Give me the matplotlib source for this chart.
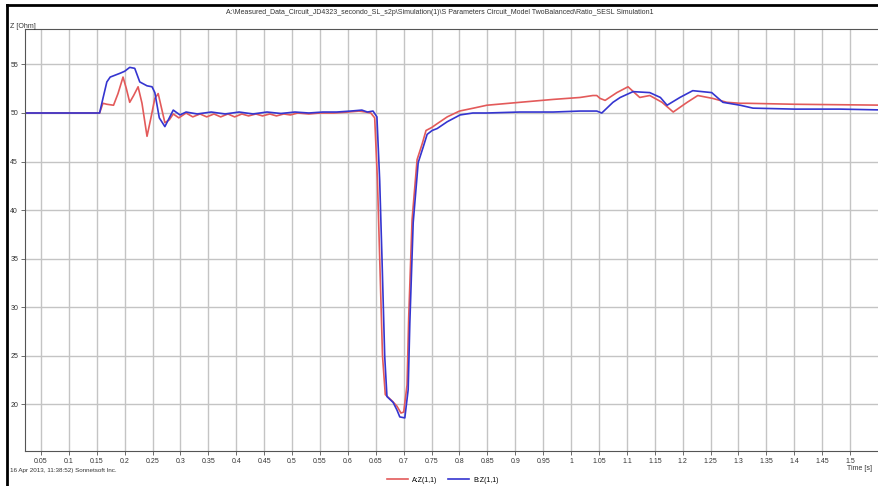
import numpy as np
from matplotlib import pyplot as plt
from matplotlib.lines import Line2D

plt.rcParams['font.family'] = ['Liberation Sans', 'DejaVu Sans']

title = ('A:\\Measured_Data_Circuit_JD4323_secondo_SL_s2p\\Simulation(1)\\S Parameters '
         'Circuit_Model TwoBalanced\\Ratio_SESL Simulation1')
footer = '16 Apr 2013, 11:38:52) Sonnetsoft Inc.'
y_label = 'Z [Ohm]'
x_label = 'Time [s]'
series_names = ['A:Z(1,1)', 'B:Z(1,1)']

# curve A (red)
t_a = [0.021, 0.10, 0.155, 0.161, 0.168, 0.180, 0.188, 0.197, 0.203, 0.209, 0.216,
       0.224, 0.231, 0.240, 0.247, 0.254, 0.260, 0.266, 0.272, 0.280, 0.287, 0.297,
       0.31, 0.322, 0.335, 0.347, 0.36, 0.372, 0.385, 0.397, 0.41, 0.422, 0.435,
       0.447, 0.46, 0.472, 0.485, 0.497, 0.51, 0.53, 0.55, 0.575, 0.60, 0.62, 0.632,
       0.641, 0.648, 0.653, 0.657, 0.662, 0.667, 0.680, 0.688, 0.695, 0.700, 0.706,
       0.709, 0.715, 0.724, 0.733, 0.740, 0.750, 0.760, 0.778, 0.80, 0.825, 0.849,
       0.908, 0.968, 1.016, 1.039, 1.046, 1.052, 1.061, 1.082, 1.102, 1.123, 1.141,
       1.163, 1.183, 1.208, 1.227, 1.254, 1.279, 1.303, 1.315, 1.40, 1.57]
z_a = [50.0, 50.0, 50.0, 51.0, 50.9, 50.8, 52.0, 53.7, 52.5, 51.1, 51.8,
       52.7, 51.0, 47.6, 49.5, 51.5, 52.0, 50.5, 49.0, 49.3, 49.9, 49.5,
       50.0, 49.6, 49.9, 49.6, 49.9, 49.6, 49.9, 49.6, 49.9, 49.7, 49.9,
       49.7, 49.9, 49.7, 49.9, 49.8, 50.0, 49.9, 50.0, 50.0, 50.1, 50.2, 50.1,
       50.0, 49.5, 43.0, 35.0, 25.0, 21.0, 20.3, 19.8, 19.1, 19.2, 22.0,
       29.0, 39.0, 45.2, 46.8, 48.2, 48.5, 48.9, 49.6, 50.2, 50.5, 50.8,
       51.1, 51.4, 51.6, 51.8, 51.8, 51.5, 51.3, 52.1, 52.7, 51.6, 51.8,
       51.1, 50.1, 51.1, 51.8, 51.5, 51.1, 51.0, 51.0, 50.9, 50.8]

# curve B (blue)
t_b = [0.021, 0.10, 0.155, 0.161, 0.168, 0.174, 0.192, 0.200, 0.209, 0.218, 0.227,
       0.240, 0.249, 0.254, 0.262, 0.272, 0.280, 0.287, 0.299, 0.31, 0.33, 0.355,
       0.38, 0.405, 0.43, 0.455, 0.48, 0.505, 0.53, 0.555, 0.58, 0.605, 0.625,
       0.635, 0.645, 0.652, 0.657, 0.661, 0.666, 0.670, 0.681, 0.688, 0.693, 0.702,
       0.708, 0.711, 0.717, 0.726, 0.735, 0.742, 0.751, 0.760, 0.778, 0.801, 0.824,
       0.849, 0.908, 0.968, 1.016, 1.046, 1.055, 1.075, 1.088, 1.111, 1.141, 1.160,
       1.172, 1.195, 1.218, 1.252, 1.272, 1.303, 1.326, 1.40, 1.482, 1.57]
z_b = [50.0, 50.0, 50.0, 51.5, 53.2, 53.7, 54.1, 54.3, 54.7, 54.6, 53.2,
       52.8, 52.7, 52.1, 49.5, 48.6, 49.5, 50.3, 49.8, 50.1, 49.9, 50.1,
       49.9, 50.1, 49.9, 50.1, 49.95, 50.1, 50.0, 50.1, 50.1, 50.2, 50.3,
       50.1, 50.2, 49.6, 43.0, 35.2, 24.9, 20.8, 20.2, 19.4, 18.7, 18.6,
       21.5, 28.4, 38.7, 44.9, 46.5, 47.8, 48.2, 48.4, 49.1, 49.8, 50.0,
       50.0, 50.1, 50.1, 50.2, 50.2, 50.0, 51.1, 51.6, 52.2, 52.1, 51.6,
       50.8, 51.6, 52.3, 52.1, 51.1, 50.8, 50.5, 50.4, 50.4, 50.3]

x_ticks = np.round(np.arange(0.05, 1.55, 0.05), 2)
y_ticks = [20, 25, 30, 35, 40, 45, 50, 55]

W, H = 879, 486
fig = plt.figure(figsize=(W / 100, H / 100), dpi=100)

# axes box in pixels: left 25, top 29, bottom 451, right past the image edge
ax = fig.add_axes([25 / W, (H - 451) / H, (888 - 25) / W, (451 - 29) / H])
ax.set_xlim(0.05 + (25 - 41) / 558, 0.05 + (888 - 41) / 558)
ax.set_ylim(50 - (451 - 113) / 9.71, 50 + (113 - 29) / 9.71)

ax.grid(True, color='#c4c4c4', linewidth=1.0)
ax.set_axisbelow(True)
ax.plot(t_a, z_a, color='#e35a5a', linewidth=1.2, label=series_names[0])
ax.plot(t_b, z_b, color='#3535d0', linewidth=1.2, label=series_names[1])

ax.set_xticks(x_ticks)
ax.set_xticklabels(['%g' % v for v in x_ticks])
ax.set_yticks(y_ticks)
ax.tick_params(labelsize=5, length=3, width=0.6, color='#555555', pad=2,
               labelcolor='#333333', direction='out')
for s in ax.spines.values():
    s.set_color('#555555')
    s.set_linewidth(0.8)
ax.spines['right'].set_visible(False)

fig.text(440 / W, 1 - 13 / H, title, fontsize=5, ha='center', va='center', color='#333333')
fig.text(10 / W, 1 - 27 / H, y_label, fontsize=5, ha='left', va='center', color='#333333')
fig.text(10 / W, 1 - 470 / H, footer, fontsize=4.5, ha='left', va='center', color='#333333')
fig.text(847 / W, 1 - 468 / H, x_label, fontsize=5, ha='left', va='center', color='#333333')

fig.legend(loc='center', bbox_to_anchor=(443 / W, 1 - 480 / H), ncol=2, frameon=False,
           fontsize=5, handlelength=3, columnspacing=1.5, handletextpad=0.6)

# outer window frame
fig.add_artist(Line2D([7 / W, 7 / W], [0, 1 - 5 / H], color='black', linewidth=2,
                      transform=fig.transFigure))
fig.add_artist(Line2D([7 / W, 1], [1 - 5 / H, 1 - 5 / H], color='black', linewidth=2,
                      transform=fig.transFigure))

fig.savefig('out.png', dpi=100)
